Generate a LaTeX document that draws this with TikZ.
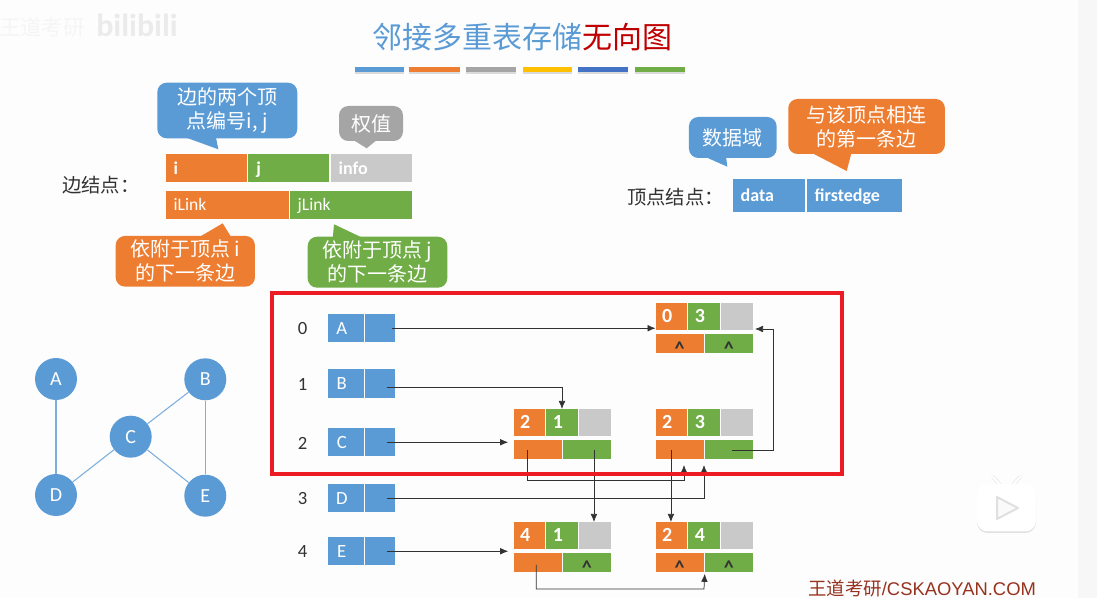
\documentclass[tikz,border=0pt]{standalone}
\usepackage{fontspec}
\setmainfont{Carlito}
\newfontfamily\cjk{Noto Sans CJK SC}
\newfontfamily\arialf{Liberation Sans}
\usepackage{tikz}
\usetikzlibrary{arrows.meta, calc}
\usepackage{xcolor}
\definecolor{CB}{RGB}{91,155,213}
\definecolor{CO}{RGB}{237,125,49}
\definecolor{CG}{RGB}{112,173,71}
\definecolor{CGr}{RGB}{201,201,201}
\definecolor{CM}{RGB}{165,165,165}
\definecolor{CY}{RGB}{255,192,0}
\definecolor{CD}{RGB}{68,114,196}
\definecolor{CR}{RGB}{192,0,0}
\definecolor{CF}{RGB}{237,28,36}
\definecolor{CS}{RGB}{150,50,30}
\definecolor{DG}{RGB}{50,50,50}
\definecolor{BG}{RGB}{253,253,254}
\newcommand{\nil}{\raisebox{-4.5pt}{\textcolor{black!80}{\fontsize{15}{15}\selectfont\textasciicircum}}}
\newcommand{\lft}[1]{#1\hspace*{6pt}}
\tikzset{
  wd/.style={minimum width=#1*0.75pt},
  ht/.style={minimum height=#1*0.75pt},
  cellbox/.style={inner sep=0pt, outer sep=0pt, anchor=north west, text=white,
    text height=11pt, text depth=2pt, font=\bfseries\fontsize{13.5}{14}\selectfont},
  legcell/.style={cellbox, align=left, inner xsep=6pt, text width=(#1-16)*0.75pt, ht=28},
  callout/.style={inner sep=0pt, outer sep=0pt, rounded corners=7pt, text=white, align=center,
    font=\cjk\fontsize{15}{18}\selectfont},
  cnlabel/.style={anchor=west, text=DG, inner sep=0pt, font=\cjk\fontsize{14.5}{16}\selectfont},
  vertexnode/.style={circle, fill=CB, inner sep=0pt, minimum size=31.5pt, text=white,
    font=\fontsize{15}{16}\selectfont},
  gedge/.style={draw=CB!80, line width=0.8pt},
  link/.style={draw=DG, line width=0.55pt, -{Latex[length=6pt,width=5pt]}},
}
\begin{document}
\begin{tikzpicture}[x=0.75pt,y=-0.75pt]
\useasboundingbox (0,0) rectangle (1097,598);
\fill[BG] (0,0) rectangle (1097,598);
\fill[black!3] (1078,0) rectangle (1097,598);

% Watermarks
\node (wmtext) [text=black!4, inner sep=0pt, font=\cjk\fontsize{16}{16}\selectfont] at (42,27) {王道考研};
\node (wmlogo) [text=black!8, inner sep=0pt, font=\bfseries\fontsize{24}{24}\selectfont] at (137,25) {bilibili};
\node (site) [anchor=west, inner sep=0pt, text=CS, font=\arialf\fontsize{13.8}{15}\selectfont] at (808,589) {{\cjk 王道考研}/CSKAOYAN.COM};

% Play icon
\draw[line width=2.6pt, line cap=round, draw=black!10] (993,477) -- (1001,486) (1020,477) -- (1012,486);
\draw[line width=1.6pt, line cap=round, draw=white] (993,477) -- (1001,486) (1020,477) -- (1012,486);
\fill[black!12, rounded corners=8pt] (977,486) rectangle (1036,533);
\fill[white, rounded corners=8pt] (977,484) rectangle (1036,531.5);
\draw[draw=black!12, fill=black!2, line width=1.5pt, line join=round] (997,497) -- (1018,508) -- (997,519) -- cycle;

% Title and bars
\node (title) [inner sep=0pt, font=\cjk\fontsize{22.5}{24}\selectfont] at (522,37.5)
  {\textcolor{CB}{邻接多重表存储}\textcolor{CR}{无向图}};
\foreach \xa/\xb/\col in {355/404/CB, 409/459.5/CO, 466/516/CM, 522.5/572/CY, 577.5/628/CD, 634.5/684.5/CG} {
  \fill[black!14] (\xa,68.5) rectangle (\xb,74);
  \fill[\col] (\xa,67.3) rectangle (\xb,72.5);
}

% Edge node legend
\node (edgelabel) [cnlabel] at (62,185) {边结点：};
\node (legi) [legcell=81.3, fill=CO] at (165.7,154.3) {i};
\node (legj) [legcell=81, fill=CG] at (248.3,154.3) {j};
\node (leginfo) [legcell=81.3, fill=CGr] at (330.7,154.3) {info};
\node (legil) [legcell=123, fill=CO, font=\fontsize{13.2}{14}\selectfont] at (165.7,190.7) {iLink};
\node (legjl) [legcell=122.3, fill=CG, font=\fontsize{13.2}{14}\selectfont] at (289.7,190.7) {jLink};

% Callouts of the edge node
\fill[CB] (181.7,136) -- (218.3,149.3) -- (215.7,136) -- cycle;
\node (tipij) [callout, fill=CB, wd=140, ht=55.6] at (227.3,110.5) {边的两个顶\\点编号i, j};
\fill[CM] (351.7,139) -- (366.7,148.3) -- (378,139) -- cycle;
\node (tipw) [callout, fill=CM, wd=64, ht=35] at (371,123.5) {权值};
\fill[CO] (197.7,238) -- (222.7,223.3) -- (231.7,238) -- cycle;
\node (tipi) [callout, fill=CO, wd=139.3, ht=50.7] at (185.3,261.3) {依附于顶点 i\\的下一条边};
\fill[CG] (332.7,239) -- (334,224.3) -- (365,239) -- cycle;
\node (tipjj) [callout, fill=CG, wd=139.6, ht=51] at (377.5,262.2) {依附于顶点 j\\的下一条边};

% Vertex node legend
\node (vexlabel) [cnlabel] at (627,197) {顶点结点：};
\node (legd) [legcell=72.6, fill=CB, ht=32.4] at (732.7,179.3) {data};
\node (legf) [legcell=95, fill=CB, ht=32.4] at (806.7,179.3) {firstedge};
\fill[CB] (703.3,156) -- (727.3,166.7) -- (726,156) -- cycle;
\node (tipd) [callout, fill=CB, wd=87.7, ht=41] at (732.8,137.5) {数据域};
\fill[CO] (810,152) -- (846.7,171) -- (851.7,152) -- cycle;
\node (tipf) [callout, fill=CO, wd=156.7, ht=55] at (866.6,126.5) {与该顶点相连\\的第一条边};

% Undirected graph
\node (gA) [vertexnode] at (56,379) {A};
\node (gB) [vertexnode] at (205.3,379.3) {B};
\node (gC) [vertexnode] at (130.7,436.7) {C};
\node (gD) [vertexnode] at (56,495) {D};
\node (gE) [vertexnode] at (205.3,495.7) {E};
\draw[gedge] (gA) -- (gD);
\draw[gedge] (gB) -- (gC);
\draw[gedge] (gB) -- (gE);
\draw[gedge] (gC) -- (gD);
\draw[gedge] (gC) -- (gE);

% Vertex table
\foreach \nm/\idx/\y in {A/0/314, B/1/369.5, C/2/428, D/3/484, E/4/537} {
  \node (idx\nm) [inner sep=0pt, text=DG, font=\fontsize{14}{15}\selectfont] at (302.5,\y+15) {\idx};
  \node (v\nm d) [cellbox, wd=35.5, ht=28.5, fill=CB, font=\fontsize{14}{15}\selectfont] at (328,\y) {\lft{\nm}};
  \node (v\nm f) [cellbox, wd=30, ht=28.5, fill=CB] at (365,\y) {};
}

% Edge nodes
\foreach \nm/\x/\y/\a/\b/\c/\d in {e03/655.5/303/0/3/\nil/\nil, e21/513.5/409/2/1/\empty/\empty,
    e23/655.5/409/2/3/\empty/\empty, e41/513.5/522/4/1/\empty/\nil, e24/655.5/522/2/4/\nil/\nil} {
  \node (\nm i) [cellbox, wd=31.5, ht=27.5, fill=CO, font=\bfseries\fontsize{15}{15}\selectfont] at (\x,\y) {\lft{\a}};
  \node (\nm j) [cellbox, wd=32, ht=27.5, fill=CG, font=\bfseries\fontsize{15}{15}\selectfont] at (\x+32.5,\y) {\lft{\b}};
  \node (\nm w) [cellbox, wd=32, ht=27.5, fill=CGr] at (\x+65.5,\y) {};
  \node (\nm il) [cellbox, wd=48.2, ht=19, fill=CO] at (\x,\y+31.5) {\c};
  \node (\nm jl) [cellbox, wd=48.2, ht=19, fill=CG] at (\x+49.3,\y+31.5) {\d};
}

% Free ends below the C-D edge
\coordinate (inI) at (684,465);
\coordinate (inJ) at (704,465);
\coordinate (inW) at (755,329);

% Pointers
\draw[link] ([xshift=9pt]vAf.center) -- (vAf.center -| e03i.west);
\draw[link] ([xshift=5pt,yshift=-2.5pt]vBf.center) -| (e21j.north);
\draw[link] ([xshift=5pt]vCf.center) -- ([xshift=-4pt]vCf.center -| e21i.west);
\draw[link] ([xshift=5pt]vEf.center) -- ([xshift=-4pt]vEf.center -| e41i.west);
\draw[link] ([xshift=5pt]vDf.center) -| (inJ);
\draw[link] ([xshift=-8pt]e21il.center) |- ([yshift=-16pt]e23il.south -| inI) -- (inI);
\draw[link] ([xshift=5.3pt]e21jl.center) -- ([xshift=5.3pt]e41w.north -| e21jl.center);
\draw[link] ([xshift=-6.5pt]e23il.center) -- ([xshift=-6.5pt]e24i.north -| e23il.center);
\draw[link] ([xshift=2.5pt]e23jl.center) -| ([xshift=15pt]e23jl.east |- inW) -- (inW);
\draw[link] ([xshift=-1pt,yshift=-1.5pt]e41il.center) |- ([yshift=-12.4pt]e41il.south -| inJ) -- ([yshift=-1pt]e24jl.south west);

% Red frame
\draw[CF, line width=2.4pt] (272,293) rectangle (842,474);
\end{tikzpicture}
\end{document}
